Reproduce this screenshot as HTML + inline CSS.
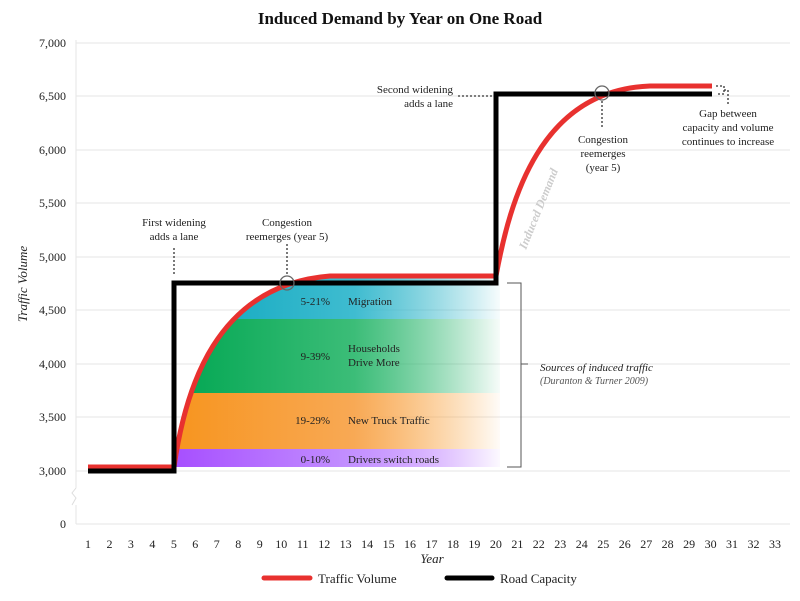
<!DOCTYPE html>
<html><head><meta charset="utf-8"><style>
body{margin:0;background:#fff;}
svg text{font-family:"Liberation Serif",serif;fill:#222;}
</style></head><body>
<svg width="800" height="596" viewBox="0 0 800 596" xmlns="http://www.w3.org/2000/svg">
<defs>
<linearGradient id="gT" x1="170" x2="505" gradientUnits="userSpaceOnUse"><stop offset="0" stop-color="#0aa6bd"/><stop offset="0.55" stop-color="#3fbcd0"/><stop offset="1" stop-color="#0aa6bd" stop-opacity="0"/></linearGradient>
<linearGradient id="gG" x1="170" x2="505" gradientUnits="userSpaceOnUse"><stop offset="0" stop-color="#00a651"/><stop offset="0.55" stop-color="#3cbd78"/><stop offset="1" stop-color="#00a651" stop-opacity="0"/></linearGradient>
<linearGradient id="gO" x1="170" x2="505" gradientUnits="userSpaceOnUse"><stop offset="0" stop-color="#f7941d"/><stop offset="0.55" stop-color="#f8a955"/><stop offset="1" stop-color="#f7941d" stop-opacity="0"/></linearGradient>
<linearGradient id="gP" x1="170" x2="505" gradientUnits="userSpaceOnUse"><stop offset="0" stop-color="#a64dff"/><stop offset="0.55" stop-color="#c391ff"/><stop offset="1" stop-color="#a64dff" stop-opacity="0"/></linearGradient>
<clipPath id="cp"><path d="M174,467 C185,390 215,285 330,276 L500,276 L500,467 Z"/></clipPath>
</defs>
<text x="400" y="24" text-anchor="middle" font-size="17" font-weight="bold" style="fill:#111">Induced Demand by Year on One Road</text>
<g stroke="#e6e6e6" stroke-width="1">
<line x1="76" y1="43" x2="790" y2="43"/><line x1="76" y1="96" x2="790" y2="96"/><line x1="76" y1="150" x2="790" y2="150"/><line x1="76" y1="203" x2="790" y2="203"/><line x1="76" y1="257" x2="790" y2="257"/><line x1="76" y1="310" x2="790" y2="310"/><line x1="76" y1="364" x2="790" y2="364"/><line x1="76" y1="417" x2="790" y2="417"/><line x1="76" y1="471" x2="790" y2="471"/><line x1="76" y1="524" x2="790" y2="524"/>
<line x1="76" y1="40" x2="76" y2="488"/><line x1="76" y1="505" x2="76" y2="524"/>
</g>
<path d="M76,488 L72,493 L76,498 L72,505" fill="none" stroke="#ddd"/>
<g font-size="12" text-anchor="end">
<text x="66" y="47">7,000</text><text x="66" y="100">6,500</text><text x="66" y="154">6,000</text><text x="66" y="207">5,500</text><text x="66" y="261">5,000</text><text x="66" y="314">4,500</text><text x="66" y="368">4,000</text><text x="66" y="421">3,500</text><text x="66" y="475">3,000</text><text x="66" y="528">0</text>
</g>
<text transform="translate(27,284) rotate(-90)" text-anchor="middle" font-size="13" font-style="italic">Traffic Volume</text>
<g font-size="12" text-anchor="middle">
<text x="88" y="548">1</text><text x="109.5" y="548">2</text><text x="130.9" y="548">3</text><text x="152.4" y="548">4</text><text x="173.9" y="548">5</text><text x="195.3" y="548">6</text><text x="216.8" y="548">7</text><text x="238.3" y="548">8</text><text x="259.8" y="548">9</text><text x="281.2" y="548">10</text><text x="302.7" y="548">11</text><text x="324.2" y="548">12</text><text x="345.6" y="548">13</text><text x="367.1" y="548">14</text><text x="388.6" y="548">15</text><text x="410" y="548">16</text><text x="431.5" y="548">17</text><text x="453" y="548">18</text><text x="474.4" y="548">19</text><text x="495.9" y="548">20</text><text x="517.4" y="548">21</text><text x="538.8" y="548">22</text><text x="560.3" y="548">23</text><text x="581.8" y="548">24</text><text x="603.2" y="548">25</text><text x="624.7" y="548">26</text><text x="646.2" y="548">27</text><text x="667.6" y="548">28</text><text x="689.1" y="548">29</text><text x="710.6" y="548">30</text><text x="732" y="548">31</text><text x="753.5" y="548">32</text><text x="775" y="548">33</text>
</g>
<text x="432" y="563" text-anchor="middle" font-size="13" font-style="italic">Year</text>
<g clip-path="url(#cp)">
<rect x="170" y="276" width="335" height="43" fill="url(#gT)"/>
<rect x="170" y="319" width="335" height="74" fill="url(#gG)"/>
<rect x="170" y="393" width="335" height="56" fill="url(#gO)"/>
<rect x="170" y="449" width="335" height="18" fill="url(#gP)"/>
</g>
<g font-size="11">
<text x="330" y="305" text-anchor="end">5-21%</text><text x="348" y="305">Migration</text>
<text x="330" y="360" text-anchor="end">9-39%</text><text x="348" y="352">Households</text><text x="348" y="366">Drive More</text>
<text x="330" y="424" text-anchor="end">19-29%</text><text x="348" y="424">New Truck Traffic</text>
<text x="330" y="463" text-anchor="end">0-10%</text><text x="348" y="463">Drivers switch roads</text>
</g>
<path d="M507,283 L521,283 L521,467 L507,467 M521,364 L528,364" fill="none" stroke="#555" stroke-width="1"/>
<text x="540" y="371" font-size="11" font-style="italic">Sources of induced traffic</text>
<text x="540" y="384" font-size="10" font-style="italic" style="fill:#555">(Duranton &amp; Turner 2009)</text>
<path d="M88,467 L174,467 C185,390 215,285 330,276 L496,276 C510,200 540,90 650,86 L712,86" fill="none" stroke="#e8312f" stroke-width="5"/>
<path d="M88,471 L174,471 L174,283 L496,283 L496,94 L712,94" fill="none" stroke="#000" stroke-width="5"/>
<text transform="translate(526,250) rotate(-68)" font-size="12" font-style="italic" font-weight="bold" style="fill:#ccc">Induced Demand</text>
<circle cx="287" cy="283" r="7" fill="none" stroke="#666" stroke-width="1.3"/>
<circle cx="602" cy="93" r="7" fill="none" stroke="#666" stroke-width="1.3"/>
<g stroke="#333" stroke-width="1.3" stroke-dasharray="2,2" fill="none">
<line x1="174" y1="248" x2="174" y2="276"/>
<line x1="287" y1="244" x2="287" y2="275"/>
<line x1="458" y1="96" x2="492" y2="96"/>
<line x1="602" y1="101" x2="602" y2="128"/>
<path d="M716,86 L724,86 L724,94 L716,94 M724,90 L728,90 L728,104"/>
</g>
<g font-size="11" text-anchor="middle">
<text x="174" y="226">First widening</text><text x="174" y="240">adds a lane</text>
<text x="287" y="226">Congestion</text><text x="287" y="240">reemerges (year 5)</text>
<text x="603" y="143">Congestion</text><text x="603" y="157">reemerges</text><text x="603" y="171">(year 5)</text>
<text x="728" y="117">Gap between</text><text x="728" y="131">capacity and volume</text><text x="728" y="145">continues to increase</text>
</g>
<g font-size="11" text-anchor="end"><text x="453" y="93">Second widening</text><text x="453" y="107">adds a lane</text></g>
<line x1="264" y1="578" x2="310" y2="578" stroke="#e8312f" stroke-width="5" stroke-linecap="round"/>
<text x="318" y="583" font-size="13">Traffic Volume</text>
<line x1="447" y1="578" x2="492" y2="578" stroke="#000" stroke-width="5" stroke-linecap="round"/>
<text x="500" y="583" font-size="13">Road Capacity</text>
</svg>
</body></html>
